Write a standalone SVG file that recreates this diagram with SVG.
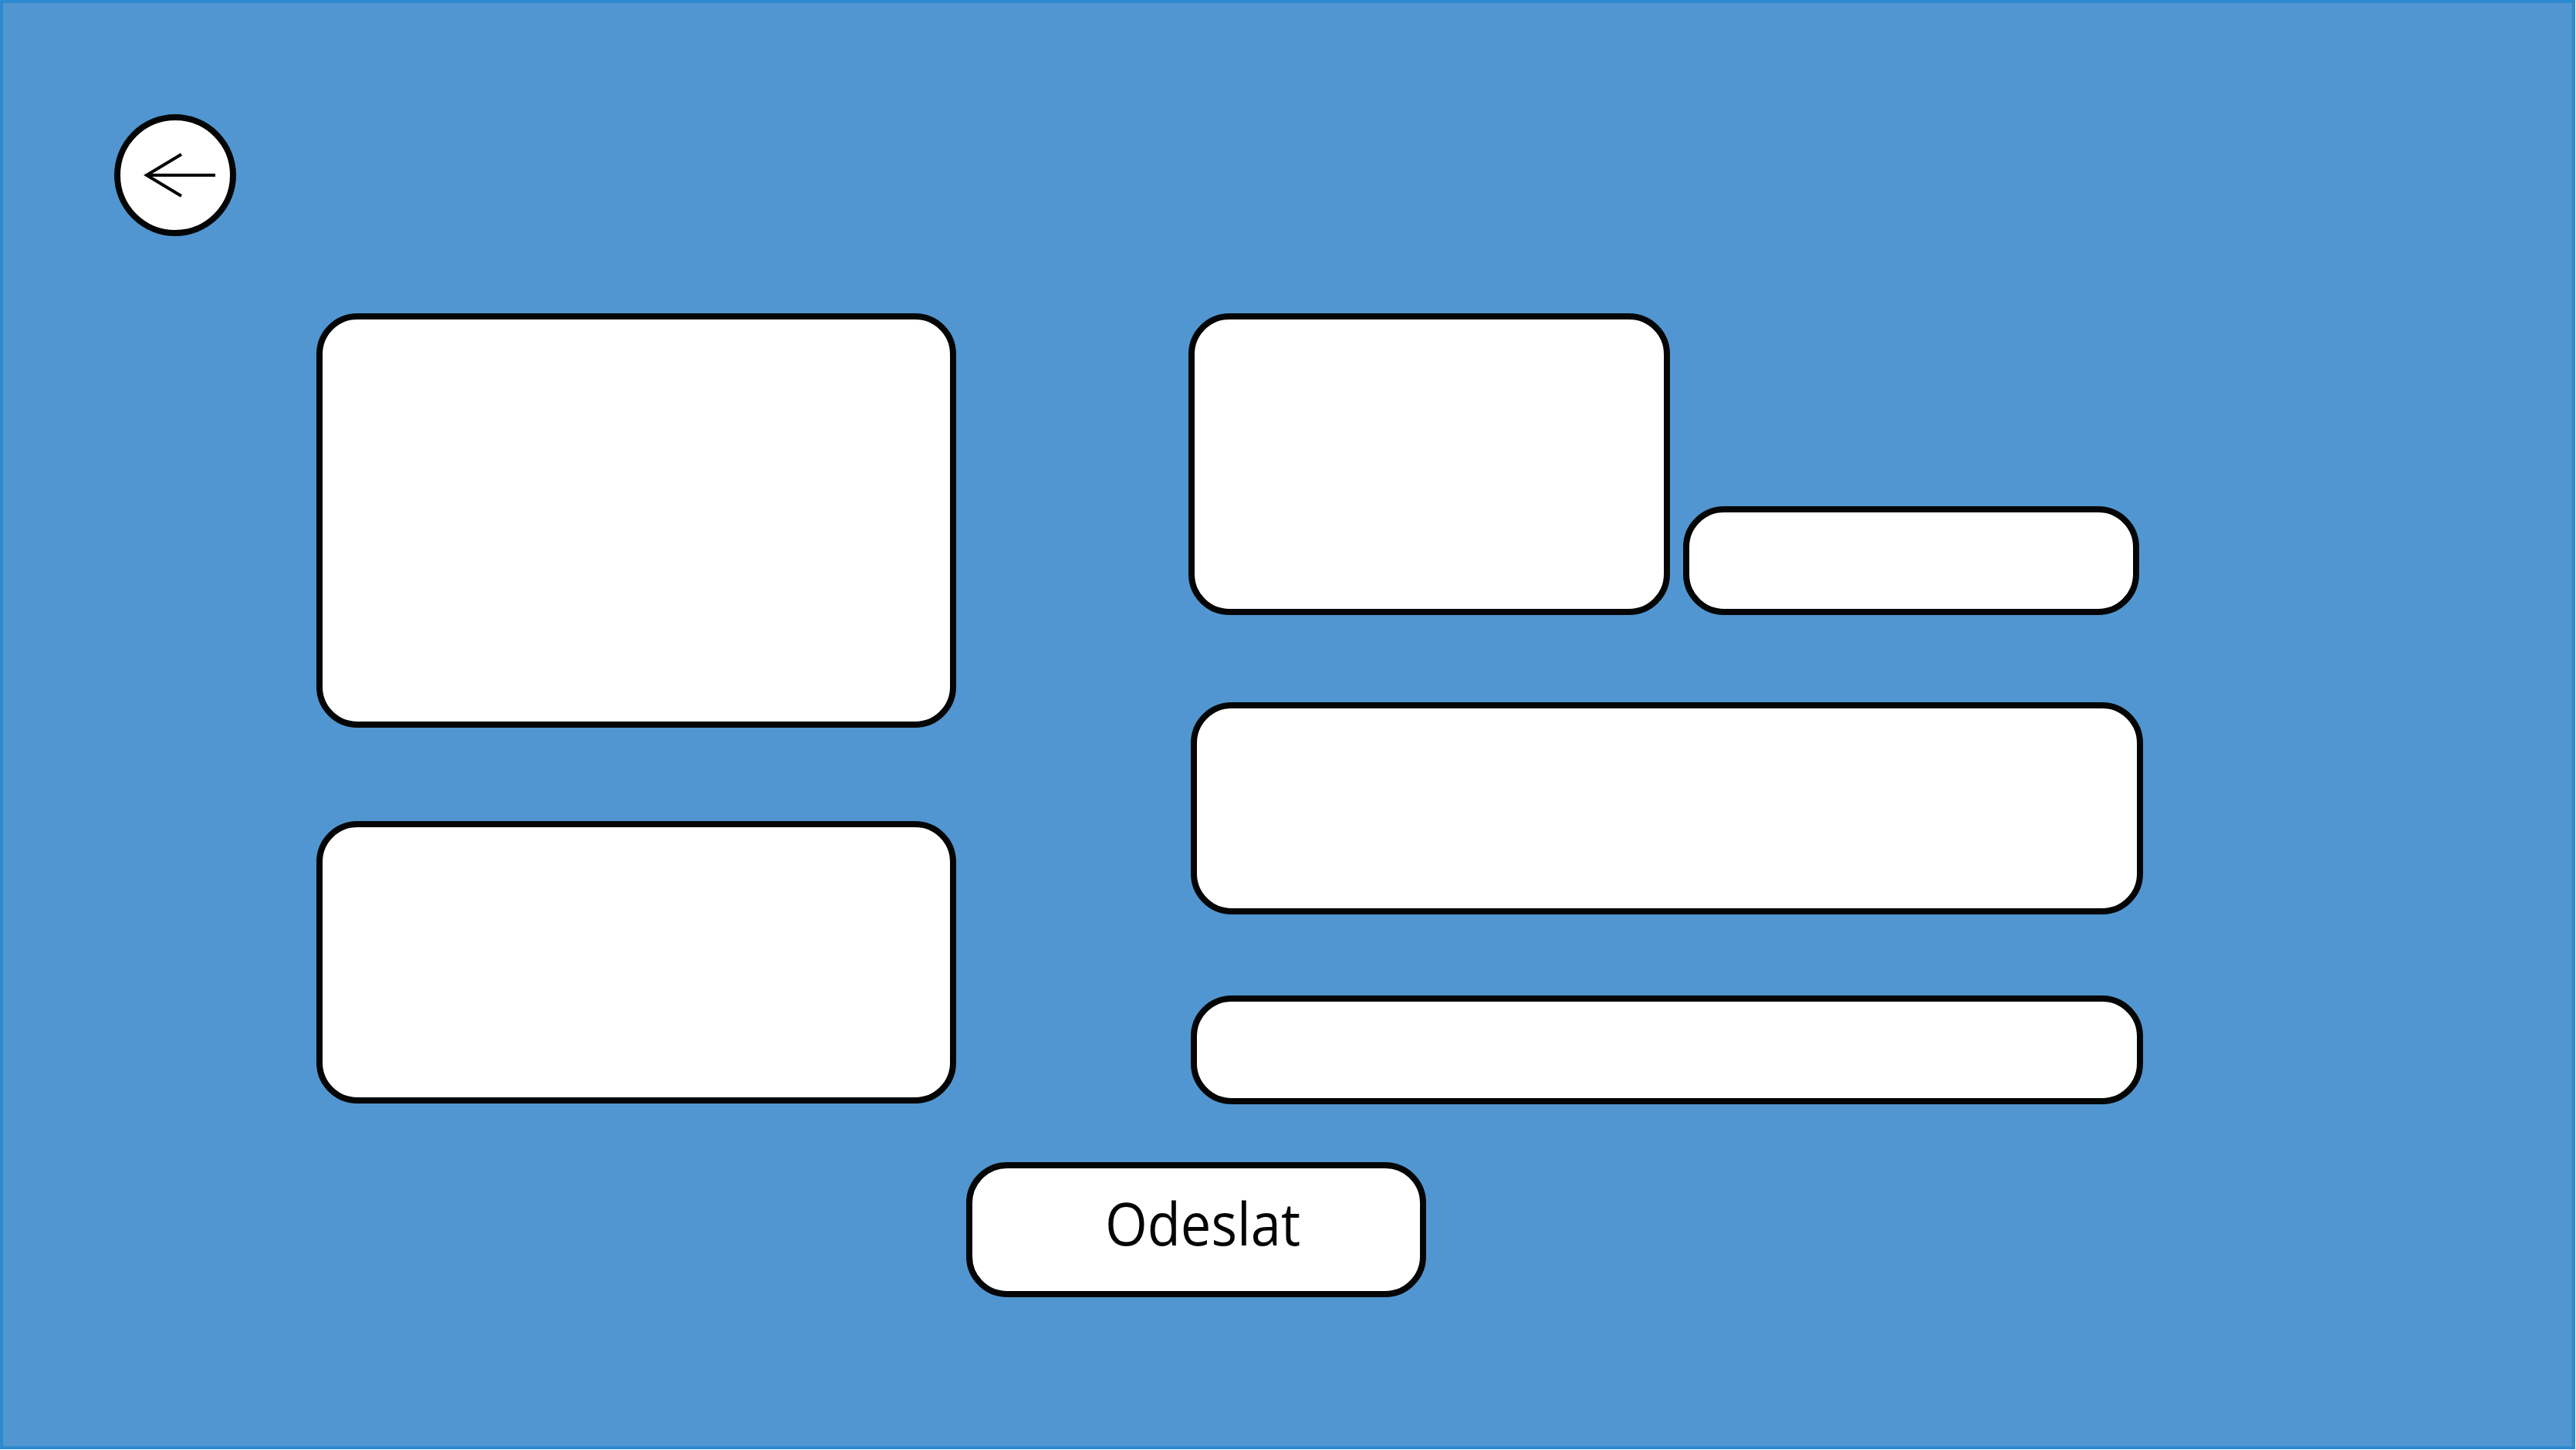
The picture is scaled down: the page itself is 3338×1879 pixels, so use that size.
<svg xmlns="http://www.w3.org/2000/svg" width="3338" height="1879" viewBox="0 0 3338 1879">
  <style>
    .box { fill: #ffffff; stroke: #040606; stroke-width: 8; }
    .ico { fill: none; stroke: #040606; stroke-width: 4; stroke-linecap: butt; stroke-linejoin: miter; }
    .lbl { font-family: "Open Sans", "Noto Sans", "Liberation Sans", sans-serif; font-size: 77px; fill: #040606; }
  </style>
  <rect id="background" x="2" y="2" width="3333" height="1874" fill="#5196D0" stroke="#2C8AD0" stroke-width="4"/>
  <g id="back-button">
    <circle cx="227" cy="227" r="75" class="box"/>
    <polyline class="ico" points="235,200 190,227 235,254"/>
    <line class="ico" x1="190" y1="227" x2="279" y2="227"/>
  </g>
  <g id="box-a"><rect class="box" x="414" y="410" width="821" height="529" rx="49" ry="49"/></g>
  <g id="box-b"><rect class="box" x="414" y="1068" width="821" height="358" rx="49" ry="49"/></g>
  <g id="box-c"><rect class="box" x="1544" y="410" width="616" height="383" rx="49" ry="49"/></g>
  <g id="box-d"><rect class="box" x="2185" y="660" width="583" height="133" rx="49" ry="49"/></g>
  <g id="box-e"><rect class="box" x="1547" y="914" width="1226" height="267" rx="49" ry="49"/></g>
  <g id="box-f"><rect class="box" x="1547" y="1294" width="1226" height="133" rx="49" ry="49"/></g>
  <g id="submit-button">
    <rect class="box" x="1256" y="1510" width="588" height="167" rx="49" ry="49"/>
    <text class="lbl" x="1432" y="1614" textLength="253" lengthAdjust="spacingAndGlyphs">Odeslat</text>
  </g>
  <g id="connectors"></g>
</svg>
